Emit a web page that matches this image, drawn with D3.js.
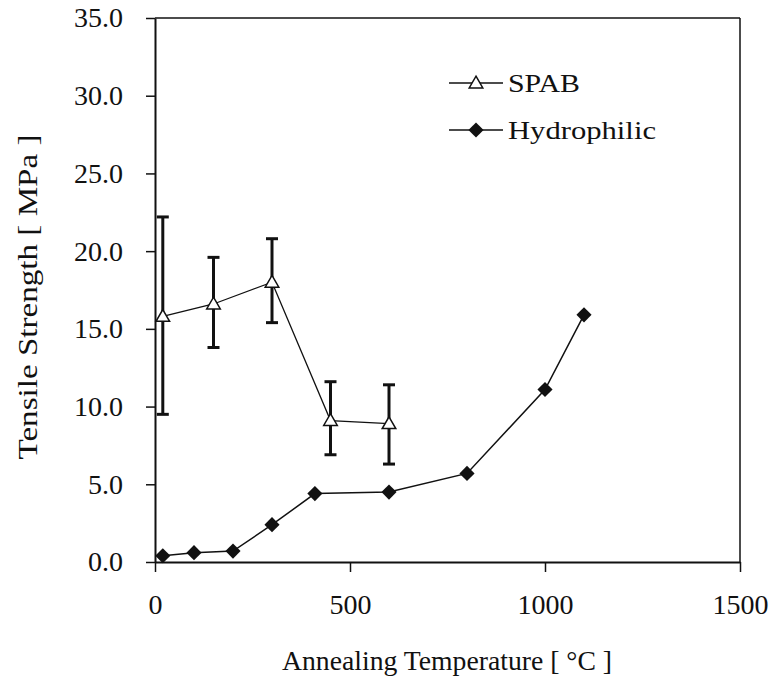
<!DOCTYPE html>
<html>
<head>
<meta charset="utf-8">
<script src="https://cdn.jsdelivr.net/npm/d3@7"></script>
<style>
  body { margin: 0; background: #fff; }
  svg text { font-family: "Liberation Serif", "Times New Roman", Times, "DejaVu Serif", serif; fill: #111; }
</style>
</head>
<body>
<div id="ch"></div>
<script>
// Tensile strength vs annealing temperature

const spabTemp = [20, 150, 300, 450, 600];
const spabVal = [15.8, 16.6, 18.0, 9.1, 8.9];
const spabHi = [22.2, 19.6, 20.8, 11.6, 11.4];
const spabLo = [9.5, 13.8, 15.4, 6.9, 6.3];

const hydTemp = [20, 100, 200, 300, 410, 600, 800, 1000, 1100];
const hydVal = [0.4, 0.6, 0.7, 2.4, 4.4, 4.5, 5.7, 11.1, 15.9];

const xTicks = [0, 500, 1000, 1500];
const yTicks = [0, 5, 10, 15, 20, 25, 30, 35];
const seriesNames = ["SPAB", "Hydrophilic"];

const serif = '"Liberation Serif", "Times New Roman", Times, "DejaVu Serif", serif';

/* Dimensions */
const width = 776, height = 681;
const m = { left: 155, top: 18, right: 36, bottom: 119 };
const pw = width - m.left - m.right;
const ph = height - m.top - m.bottom;

const svg = d3.select("#ch").append("svg")
  .attr("width", width)
  .attr("height", height)
  .attr("font-family", serif);

const g = svg.append("g").attr("transform", `translate(${m.left},${m.top})`);

let x = d3.scaleLinear().domain([0, 1500]).range([0, pw]);
let y = d3.scaleLinear().domain([0, 35]).range([ph, 0]);

/* frame (top + right) */
g.append("line").attr("x1", 0).attr("x2", pw).attr("y1", 0).attr("y2", 0)
  .attr("stroke", "#111").attr("stroke-width", 1.5);
g.append("line").attr("x1", pw).attr("x2", pw).attr("y1", 0).attr("y2", ph)
  .attr("stroke", "#111").attr("stroke-width", 1.5);

/* axes */
const xAxis = g.append("g")
  .attr("transform", `translate(0,${ph})`)
  .call(d3.axisBottom(x).tickValues(xTicks).tickSize(10).tickPadding(22)
    .tickFormat(d3.format("d")).tickSizeOuter(0));
const yAxis = g.append("g")
  .call(d3.axisLeft(y).tickValues(yTicks).tickSize(9).tickPadding(23)
    .tickFormat(d3.format(".1f")).tickSizeOuter(0));

[xAxis, yAxis].forEach((a) => {
  a.attr("font-family", serif).attr("font-size", 28);
  a.select(".domain").attr("stroke", "#111").attr("stroke-width", 2);
  a.selectAll(".tick line").attr("stroke", "#111").attr("stroke-width", 1.5);
  a.selectAll(".tick text")
    .attr("font-family", serif)
    .attr("font-size", 28)
    .attr("fill", "#111");
});
xAxis.selectAll(".tick text").attr("dy", "0.71em");

/* axis titles */
svg.append("text")
  .attr("x", 447).attr("y", 670)
  .attr("text-anchor", "middle")
  .attr("font-size", 27)
  .attr("textLength", 330)
  .attr("lengthAdjust", "spacingAndGlyphs")
  .text("Annealing Temperature [ \u00B0C ]");

svg.append("text")
  .attr("transform", "translate(37,297) rotate(-90)")
  .attr("text-anchor", "middle")
  .attr("font-size", 27)
  .attr("textLength", 325)
  .attr("lengthAdjust", "spacingAndGlyphs")
  .text("Tensile Strength [ MPa ]");

const line = d3.line().x((d) => x(d[0])).y((d) => y(d[1]));

/* error bars */
const eb = g.append("g");
spabTemp.forEach((t, i) => {
  eb.append("line")
    .attr("x1", x(t)).attr("x2", x(t))
    .attr("y1", y(spabLo[i])).attr("y2", y(spabHi[i]))
    .attr("stroke", "#111").attr("stroke-width", 3);
  [spabLo[i], spabHi[i]].forEach((v) => {
    eb.append("line")
      .attr("x1", x(t) - 6).attr("x2", x(t) + 6)
      .attr("y1", y(v)).attr("y2", y(v))
      .attr("stroke", "#111").attr("stroke-width", 3);
  });
});

/* SPAB */
const spab = spabTemp.map((t, i) => [t, spabVal[i]]);
g.append("path").datum(spab)
  .attr("d", line)
  .attr("fill", "none").attr("stroke", "#111").attr("stroke-width", 1.3);

const tri = d3.symbol().type(d3.symbolTriangle).size(80);
g.selectAll(".spab")
  .data(spab)
  .enter()
  .append("path")
  .attr("d", tri)
  .attr("transform", (d) => `translate(${x(d[0])},${y(d[1]) + 1})`)
  .attr("fill", "#fff").attr("stroke", "#111").attr("stroke-width", 1.5);

/* Hydrophilic */
const hyd = hydTemp.map((t, i) => [t, hydVal[i]]);
g.append("path").datum(hyd)
  .attr("d", line)
  .attr("fill", "none").attr("stroke", "#111").attr("stroke-width", 1.5);

// diamond = square turned 45 degrees
const dia = d3.symbol().type(d3.symbolSquare).size(115);
g.selectAll(".hyd")
  .data(hyd)
  .enter()
  .append("path")
  .attr("d", dia)
  .attr("transform", (d) => `translate(${x(d[0])},${y(d[1])}) rotate(45)`)
  .attr("fill", "#111");

/* legend */
const lg = svg.append("g");
const legLen = [72, 148];
seriesNames.forEach((name, i) => {
  const ly = 83 + i * 47;
  lg.append("line").attr("x1", 449).attr("x2", 503).attr("y1", ly).attr("y2", ly)
    .attr("stroke", "#111").attr("stroke-width", 1.3);
  lg.append("path")
    .attr("d", i === 0 ? tri : dia)
    .attr("transform", i === 0 ? `translate(476,${ly + 1})` : `translate(476,${ly}) rotate(45)`)
    .attr("fill", i === 0 ? "#fff" : "#111")
    .attr("stroke", "#111").attr("stroke-width", i === 0 ? 1.5 : 0);
  lg.append("text")
    .attr("x", 508).attr("y", ly + 9)
    .attr("font-size", 25)
    .attr("textLength", legLen[i])
    .attr("lengthAdjust", "spacingAndGlyphs")
    .text(name);
});
</script>
</body>
</html>
